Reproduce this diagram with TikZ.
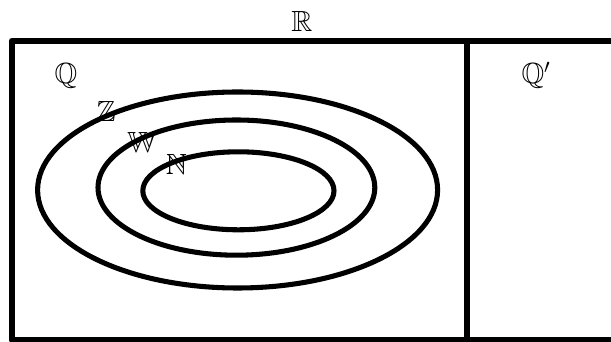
\documentclass[tikz,border=0pt]{standalone}
\usepackage{amssymb}
\begin{document}
\begin{tikzpicture}[
  lbl/.style={anchor=base, inner sep=0pt, font=\fontsize{20.74}{25}\selectfont},
  frame/.style={line width=4.7pt, line join=round},
  ring/.style={line width=3.6pt}]
\clip (0,0) rectangle (15.275,8.55);
\coordinate (tl) at (0.3,7.525);
\coordinate (br) at (15.75,0.05);
\coordinate (mt) at (11.675,7.525);
\coordinate (mb) at (11.675,0.05);
\node[lbl] (R) at (7.55,7.75) {$\mathbb{R}$};
\node[lbl] (Q) at (1.65,6.45) {$\mathbb{Q}$};
\node[lbl] (Qp) at (13.4,6.45) {$\mathbb{Q}'$};
\node[lbl] (Z) at (2.65,5.5) {$\mathbb{Z}$};
\node[lbl] (W) at (3.55,4.725) {$\mathbb{W}$};
\node[lbl] (N) at (4.41,4.175) {$\mathbb{N}$};
\draw[frame] (tl) rectangle (br);
\draw[frame] (mt) -- (mb);
\draw[ring] (5.94,3.8) ellipse [x radius=5.0, y radius=2.45];
\draw[ring] (5.91,3.86) ellipse [x radius=3.46, y radius=1.69];
\draw[ring] (5.96,3.78) ellipse [x radius=2.39, y radius=0.975];
\end{tikzpicture}
\end{document}
